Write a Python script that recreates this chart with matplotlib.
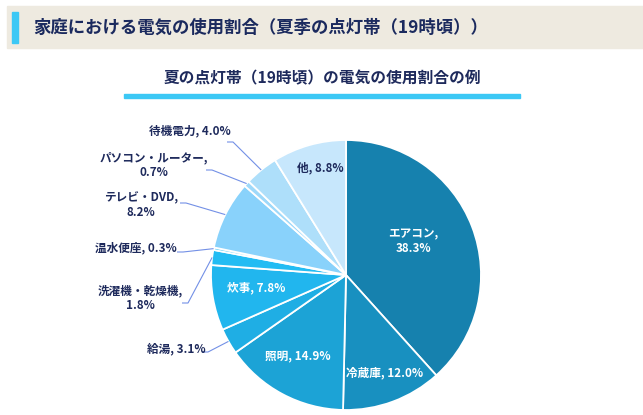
#!/usr/bin/env python3
"""家庭における電気の使用割合（夏季の点灯帯）の円グラフ"""

import numpy as np
import matplotlib.pyplot as plt
from matplotlib.patches import Rectangle

plt.rcParams['font.family'] = ['Noto Sans CJK JP', 'DejaVu Sans']

# データ（時計回り、上から）
categories = ['エアコン', '冷蔵庫', '照明', '給湯', '炊事', '洗濯機・乾燥機',
              '温水便座', 'テレビ・DVD', 'パソコン・ルーター', '待機電力', '他']
shares = [38.3, 12.0, 14.9, 3.1, 7.8, 1.8, 0.3, 8.2, 0.7, 4.0, 8.8]
colors = ['#1681AE', '#1890C0', '#1CA3D6', '#1FAEE4', '#21B6EE', '#23BCF3',
          '#4FC8F5', '#89D2FB', '#9ED9FA', '#AEDFFA', '#C7E7FC']

# ラベル文字列（改行位置は元図に合わせる）
label_texts = ['エアコン,\n38.3%', '冷蔵庫, 12.0%', '照明, 14.9%', '給湯, 3.1%',
               '炊事, 7.8%', '洗濯機・乾燥機,\n1.8%', '温水便座, 0.3%',
               'テレビ・DVD,\n8.2%', 'パソコン・ルーター,\n0.7%',
               '待機電力, 4.0%', '他, 8.8%']

TITLE = '家庭における電気の使用割合（夏季の点灯帯（19時頃））'
SUBTITLE = '夏の点灯帯（19時頃）の電気の使用割合の例'

NAVY = '#1E2A5C'
LEADER = '#7390E6'
W, H = 643, 415
CX, CY, R = 346, 275, 135

# レイアウト（ピクセル位置）: (x, y, 内側か, 引出線の始点x)
label_layout = {
    'エアコン': (413, 241, True, None),
    '冷蔵庫': (385, 373, True, None),
    '照明': (298, 356, True, None),
    '炊事': (256, 288, True, None),
    '他': (320, 168, False, None),
    '給湯': (176, 349, False, 208),
    '洗濯機・乾燥機': (140, 298, False, 188),
    '温水便座': (136, 248, False, 183),
    'テレビ・DVD': (141, 205, False, 186),
    'パソコン・ルーター': (154, 165, False, 212),
    '待機電力': (190, 131, False, 233),
}
leader_y = {'給湯': 352, '洗濯機・乾燥機': 303, '温水便座': 252,
            'テレビ・DVD': 203, 'パソコン・ルーター': 170, '待機電力': 142}

fig = plt.figure(figsize=(W / 100, H / 100), dpi=100)
ax = fig.add_axes([0, 0, 1, 1])

# 円グラフ（y軸反転のため counterclock=True で見た目は時計回り）
wedges, _ = ax.pie(shares, colors=colors, startangle=-90, counterclock=True,
                   center=(CX, CY), radius=R, frame=True,
                   wedgeprops=dict(edgecolor='white', linewidth=1.3))
ax.set_xlim(0, W)
ax.set_ylim(H, 0)
ax.axis('off')

# ヘッダー
ax.add_patch(Rectangle((7, 6), W - 7, 42, color='#EEEAE0', zorder=0))
ax.add_patch(Rectangle((12, 12), 6, 31, color='#3CC8F5', zorder=1))
ax.text(33, 27.5, TITLE, fontsize=12.5, fontweight='bold', color='#1B2A5E',
        va='center', ha='left')

# サブタイトルと下線
ax.text(322, 78, SUBTITLE, fontsize=11.3, fontweight='bold', color=NAVY,
        va='center', ha='center')
ax.add_patch(Rectangle((124, 94), 396, 4, color='#3CC8F5', zorder=1))

cum = np.cumsum(shares) / np.sum(shares)
mids = cum - np.array(shares) / np.sum(shares) / 2

for cat, txt, mid in zip(categories, label_texts, mids):
    x, y, inside, lx = label_layout[cat]
    color = 'white' if inside else NAVY
    ax.text(x, y, txt, fontsize=8.4, fontweight='bold', color=color,
            ha='center', va='center', linespacing=1.15)
    if lx is not None:
        theta = np.deg2rad(-90 + 360 * mid)
        px = CX + R * np.cos(theta)
        py = CY + R * np.sin(theta)
        ly = leader_y[cat]
        ax.plot([lx - 6, lx, px], [ly, ly, py], color=LEADER, lw=0.8,
                solid_capstyle='butt')

fig.savefig('out.png', dpi=100)
